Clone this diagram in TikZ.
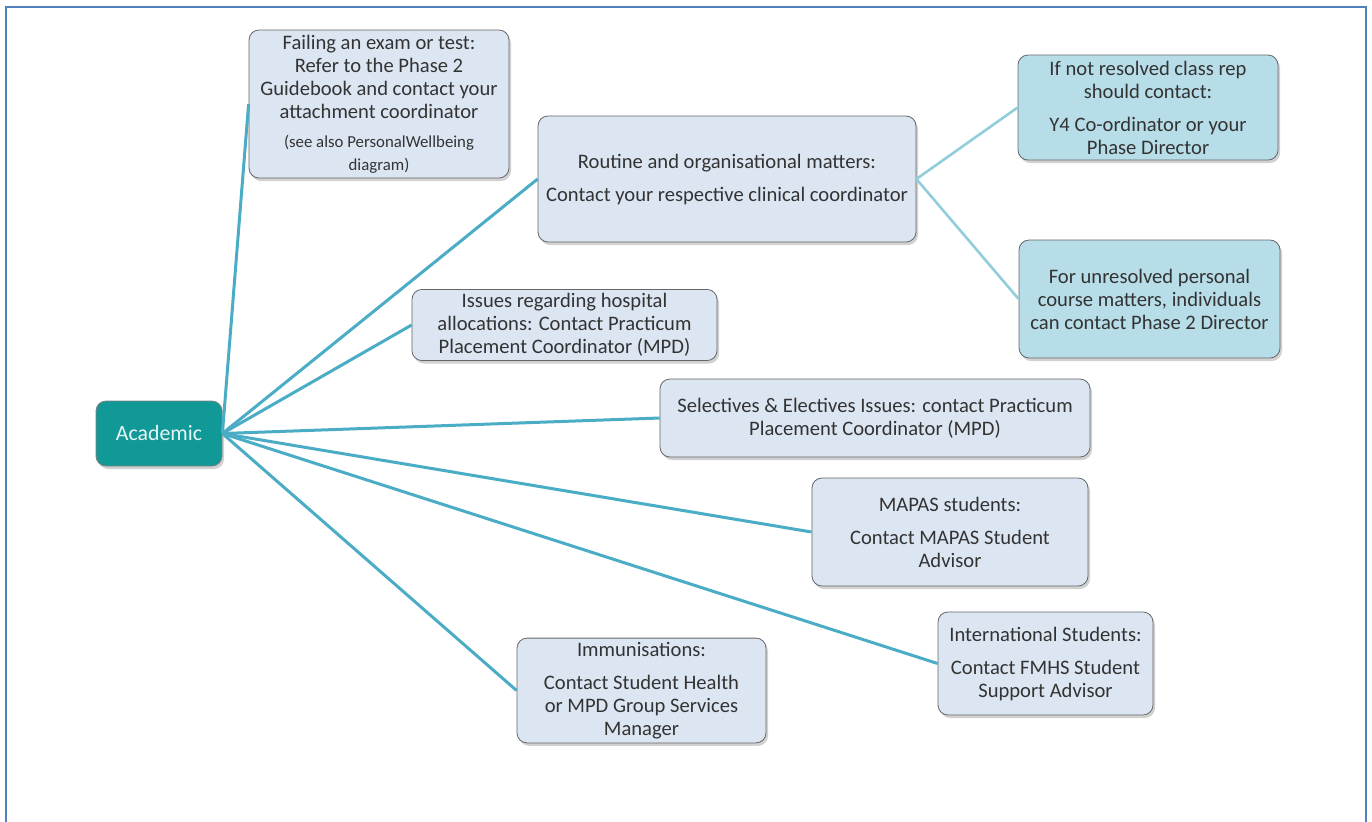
\documentclass[tikz,border=0pt]{standalone}
\usepackage{fontspec}
\setmainfont{Carlito}
\usetikzlibrary{shadows}
\definecolor{BoxFill}{RGB}{220,230,242}
\definecolor{TealFill}{RGB}{183,221,232}
\definecolor{AcadFill}{RGB}{16,153,150}
\definecolor{LinkBlue}{RGB}{75,172,198}
\definecolor{LinkPale}{RGB}{146,205,220}
\definecolor{FrameBlue}{RGB}{79,129,189}
\newcommand{\notefont}{\fontsize{8.4}{10.5}\selectfont}
\tikzset{%
  info box/.style={draw=black!60, fill=BoxFill, rounded corners=5pt, align=center,
    text=black!80, font=\fontsize{10.3}{11.5}\selectfont, inner sep=2pt,
    drop shadow={shadow xshift=1pt, shadow yshift=-1.5pt, fill=black!40, opacity=0.45}},
  teal box/.style={info box, fill=TealFill},
  main link/.style={line width=1.5pt, draw=LinkBlue},
  pale link/.style={line width=1.3pt, draw=LinkPale}
}

\begin{document}
\begin{tikzpicture}[x=0.5pt,y=-0.5pt]
    \useasboundingbox (0,0) rectangle (1372,821);
    \clip (0,0) rectangle (1372,821);
    \draw[line width=1.2pt, draw=FrameBlue] (6,7) rectangle (1366,850);
    % centre node
    \node[info box, fill=AcadFill, draw=black!50, text=white!90!AcadFill,
      font=\fontsize{10.9}{11.5}\selectfont, minimum width=63pt, minimum height=32.5pt] (acad) at (159,433.5) {Academic};
    % first level
    \node[info box, minimum width=130pt, minimum height=74pt] (fail) at (379,104)
      {Failing an exam or test:\\ Refer to the Phase 2\\ Guidebook and contact your\\ attachment coordinator\\[3pt]
       \notefont (see also PersonalWellbeing\\ \notefont diagram)};
    \node[info box, minimum width=189pt, minimum height=63pt] (routine) at (727,179)
      {Routine and organisational matters:\\[5pt] Contact your respective clinical coordinator};
    \node[info box, minimum width=152.5pt, minimum height=33pt] (hosp) at (564.5,325)
      {Issues regarding hospital\\ allocations: Contact Practicum\\ Placement Coordinator (MPD)};
    \node[info box, minimum width=215pt, minimum height=39pt] (elect) at (875,418)
      {Selectives \& Electives Issues: contact Practicum\\ Placement Coordinator (MPD)};
    \node[info box, minimum width=138pt, minimum height=54pt] (mapas) at (950,532)
      {MAPAS students:\\[5pt] Contact MAPAS Student\\ Advisor};
    \node[info box, minimum width=107.5pt, minimum height=51.5pt] (intl) at (1045.5,663.5)
      {International Students:\\[5pt] Contact FMHS Student\\ Support Advisor};
    \node[info box, minimum width=124.5pt, minimum height=51.5pt] (immun) at (641.5,690.5)
      {Immunisations:\\[5pt] Contact Student Health\\ or MPD Group Services\\ Manager};
    % second level
    \node[teal box, minimum width=130pt, minimum height=52.5pt] (classrep) at (1148,107.5)
      {If not resolved class rep\\ should contact:\\[5pt] Y4 Co-ordinator or your\\ Phase Director};
    \node[teal box, minimum width=130.5pt, minimum height=59pt] (director) at (1149.5,299)
      {For unresolved personal\\ course matters, individuals\\ can contact Phase 2 Director};
    % connectors
    \foreach \n in {fail, routine, hosp, elect, mapas, intl, immun} {
      \draw[main link] (acad.east) -- (\n.west);
    }
    \foreach \n in {classrep, director} {
      \draw[pale link] (routine.east) -- (\n.west);
    }
\end{tikzpicture}
\end{document}
